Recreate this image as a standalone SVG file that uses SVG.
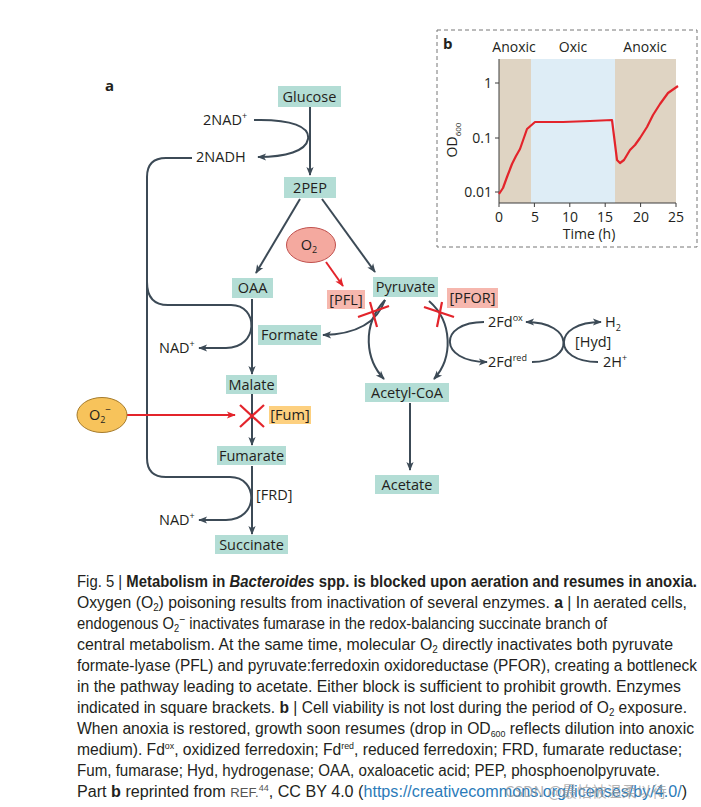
<svg xmlns="http://www.w3.org/2000/svg" width="701" height="807" viewBox="0 0 701 807">
<style>
.bg{fill:#ffffff}
.node rect{fill:#b3ddd5}
.lbl{font-family:"Open Sans","Noto Sans",sans-serif;font-size:14.5px;fill:#231f20;text-anchor:middle}
.txt{font-family:"Open Sans","Noto Sans",sans-serif;font-size:14.5px;fill:#231f20}
.conn path,.conn line{stroke:#3c4a56;stroke-width:2;fill:none}
.conn .red{stroke:#e3242b;stroke-width:2}
.cross line{stroke:#e3242b;stroke-width:2.2}
.cap{font-family:"Liberation Sans",Arial,sans-serif;font-size:16px;fill:#231f20}
.ax{font-family:"Open Sans","Noto Sans",sans-serif;font-size:14px;fill:#231f20}
</style>
<defs>
<marker id="ah" viewBox="0 0 10 10" refX="9" refY="5" markerWidth="10" markerHeight="9" markerUnits="userSpaceOnUse" orient="auto"><path d="M0,1 L10,5 L0,9 L2.5,5z" fill="#3c4a56"/></marker>
<marker id="ahr" viewBox="0 0 10 10" refX="9" refY="5" markerWidth="10" markerHeight="9" markerUnits="userSpaceOnUse" orient="auto"><path d="M0,1 L10,5 L0,9 L2.5,5z" fill="#e3242b"/></marker>
</defs>
<rect class="bg" x="0" y="0" width="701" height="807"/>

<!-- Panel a label -->
<text x="105" y="91" font-family="'Open Sans','Noto Sans',sans-serif" font-size="15" font-weight="bold" fill="#231f20">a</text>

<!-- Connectors -->
<g id="connectors" class="conn">
<line x1="310" y1="107" x2="310" y2="175" marker-end="url(#ah)"/>
<path d="M254,120 C292,119 310,127 308,139 C306,151 286,157 258,157" marker-end="url(#ah)"/>
<path d="M192,158 L166,158 Q147,158 147,177 L147,458 Q147,477 166,477 L230,477 C259,477 259,520 226,520 L199,520" marker-end="url(#ah)"/>
<path d="M147,282 Q147,305 168,305 L231,305 C259,305 259,348 226,348 L199,348" marker-end="url(#ah)"/>
<line x1="300" y1="199" x2="256" y2="273" marker-end="url(#ah)"/>
<line x1="322" y1="199" x2="375" y2="272" marker-end="url(#ah)"/>
<path class="red" d="M326,262 L343,286" marker-end="url(#ahr)"/>
<path d="M385,300 Q373,334 323,335" marker-end="url(#ah)"/>
<path d="M385,300 C361,326 366,360 384,379" marker-end="url(#ah)"/>
<path d="M429,301 C453,322 453,358 434,379" marker-end="url(#ah)"/>
<line x1="410" y1="403" x2="410" y2="470" marker-end="url(#ah)"/>
<path d="M484,322 C438,322 438,362 487,362" marker-end="url(#ah)"/>
<path d="M532,362 C575,362 575,322 526,322" marker-end="url(#ah)"/>
<path d="M598,362 C552,362 552,322 601,322" marker-end="url(#ah)"/>
<line x1="252" y1="299" x2="252" y2="374" marker-end="url(#ah)"/>
<line x1="252" y1="394" x2="252" y2="445" marker-end="url(#ah)"/>
<path class="red" d="M127,415 L235,415" marker-end="url(#ahr)"/>
<line x1="252" y1="466" x2="252" y2="534" marker-end="url(#ah)"/>
</g>

<!-- Inhibition crosses -->
<g id="cross-pfl" class="cross"><line x1="358" y1="317" x2="389" y2="306"/><line x1="370" y1="302" x2="377" y2="327"/></g>
<g id="cross-pfor" class="cross"><line x1="424" y1="307" x2="454" y2="317"/><line x1="442" y1="302" x2="437" y2="327"/></g>
<g id="cross-fum" class="cross"><line x1="240" y1="405" x2="264" y2="427"/><line x1="264" y1="405" x2="240" y2="427"/></g>

<!-- Nodes -->
<g id="glucose" class="node"><rect x="278" y="86" width="63" height="21"/><text class="lbl" x="309.5" y="102">Glucose</text></g>
<g id="pep" class="node"><rect x="284" y="177" width="52" height="21"/><text class="lbl" x="310" y="193">2PEP</text></g>
<g id="oaa" class="node"><rect x="232" y="278" width="41" height="20"/><text class="lbl" x="252.5" y="293">OAA</text></g>
<g id="pyruvate" class="node"><rect x="373" y="277" width="65" height="20"/><text class="lbl" x="405.5" y="292">Pyruvate</text></g>
<g id="formate" class="node"><rect x="258" y="325" width="63" height="20"/><text class="lbl" x="289.5" y="340">Formate</text></g>
<g id="acetylcoa" class="node"><rect x="365" y="383" width="84" height="19"/><text class="lbl" x="407" y="397.5">Acetyl-CoA</text></g>
<g id="acetate" class="node"><rect x="375" y="475" width="64" height="19"/><text class="lbl" x="407" y="489.5">Acetate</text></g>
<g id="malate" class="node"><rect x="226" y="375" width="51" height="19"/><text class="lbl" x="251.5" y="389.5">Malate</text></g>
<g id="fumarate" class="node"><rect x="217" y="446" width="69" height="19"/><text class="lbl" x="251.5" y="460.5">Fumarate</text></g>
<g id="succinate" class="node"><rect x="215" y="535" width="73" height="19"/><text class="lbl" x="251.5" y="549.5">Succinate</text></g>

<g id="pfl"><rect x="327" y="290" width="38" height="19" fill="#f6b7ae"/><text class="lbl" x="346" y="304.5">[PFL]</text></g>
<g id="pfor"><rect x="447" y="288" width="51" height="20" fill="#f6b7ae"/><text class="lbl" x="472.5" y="303">[PFOR]</text></g>
<g id="fum"><rect x="269" y="406" width="42" height="18" fill="#fdd07f"/><text class="lbl" x="290" y="420">[Fum]</text></g>

<g id="o2"><ellipse cx="311" cy="245" rx="24.5" ry="17.5" fill="#f4a99f" stroke="#c0504d" stroke-width="1"/><text class="lbl" x="309" y="250">O<tspan font-size="9" dy="3">2</tspan></text></g>
<g id="superoxide"><ellipse cx="102" cy="415" rx="25" ry="17.5" fill="#f7c35b" stroke="#a57b2c" stroke-width="1"/><text class="lbl" x="100" y="420">O<tspan font-size="9" dy="3">2</tspan><tspan font-size="10" dy="-10">−</tspan></text></g>

<g id="nad-plus-top"><text class="txt" x="203" y="125">2NAD<tspan font-size="9" dy="-6">+</tspan></text></g>
<g id="nadh"><text class="txt" x="196" y="162">2NADH</text></g>
<g id="nad-plus-1"><text class="txt" x="159" y="353">NAD<tspan font-size="9" dy="-6">+</tspan></text></g>
<g id="nad-plus-2"><text class="txt" x="159" y="525">NAD<tspan font-size="9" dy="-6">+</tspan></text></g>
<g id="frd"><text class="txt" x="256" y="500">[FRD]</text></g>
<g id="fdox"><text class="txt" x="488" y="327">2Fd<tspan font-size="9" dy="-6">ox</tspan></text></g>
<g id="fdred"><text class="txt" x="488" y="367">2Fd<tspan font-size="9" dy="-6">red</tspan></text></g>
<g id="h2"><text class="txt" x="605" y="327">H<tspan font-size="9" dy="4">2</tspan></text></g>
<g id="h-plus"><text class="txt" x="603" y="367">2H<tspan font-size="9" dy="-6">+</tspan></text></g>
<g id="hyd"><text class="txt" x="575" y="347">[Hyd]</text></g>

<!-- Panel b -->
<g id="panel-b">
<rect x="437" y="30" width="260" height="217" fill="none" stroke="#777" stroke-width="1" stroke-dasharray="4,3"/>
<text x="443" y="49" font-family="'Open Sans','Noto Sans',sans-serif" font-size="15" font-weight="bold" fill="#231f20">b</text>
<text class="ax" x="514" y="52" text-anchor="middle" font-size="15">Anoxic</text>
<text class="ax" x="573" y="52" text-anchor="middle" font-size="15">Oxic</text>
<text class="ax" x="645" y="52" text-anchor="middle" font-size="15">Anoxic</text>
<rect x="499" y="59" width="32" height="144" fill="#dfd4c3"/>
<rect x="531" y="59" width="84" height="144" fill="#deedf6"/>
<rect x="615" y="59" width="61" height="144" fill="#dfd4c3"/>
<g stroke="#3c3c3c" stroke-width="1" fill="none">
<line x1="499" y1="59" x2="499" y2="203"/>
<line x1="499" y1="203" x2="676" y2="203"/>
<line x1="499" y1="203" x2="499" y2="207"/><line x1="534.4" y1="203" x2="534.4" y2="207"/><line x1="569.8" y1="203" x2="569.8" y2="207"/><line x1="605.2" y1="203" x2="605.2" y2="207"/><line x1="640.6" y1="203" x2="640.6" y2="207"/><line x1="676" y1="203" x2="676" y2="207"/>
<line x1="495" y1="83" x2="499" y2="83"/><line x1="495" y1="138" x2="499" y2="138"/><line x1="495" y1="192" x2="499" y2="192"/>
</g>
<g class="ax" text-anchor="middle">
<text x="499" y="222">0</text><text x="535" y="222">5</text><text x="570" y="222">10</text><text x="605" y="222">15</text><text x="641" y="222">20</text><text x="676" y="222">25</text>
</g>
<g class="ax" text-anchor="end">
<text x="492" y="88">1</text><text x="492" y="143">0.1</text><text x="492" y="197">0.01</text>
</g>
<text class="ax" x="589" y="239" text-anchor="middle" font-size="15">Time (h)</text>
<text class="ax" font-size="15" text-anchor="middle" transform="translate(457,140) rotate(-90)">OD<tspan font-size="8" dy="4">600</tspan></text>
<path d="M499,194 L503,188 L507,177 L512,164 L516,156 L520,149 L527,129 L535,122 L563,122 L590,121 L612,120 L617,160 L620,163 L624,160 L627,155 L630,150 L635,145 L640,138 L647,127 L653,115 L660,104 L668,93 L678,86" fill="none" stroke="#e3242b" stroke-width="2.2" stroke-linejoin="round"/>
</g>

<!-- Caption -->
<g id="caption" class="cap">
<text x="77" y="587" textLength="620" lengthAdjust="spacingAndGlyphs">Fig. 5 | <tspan font-weight="bold">Metabolism in </tspan><tspan font-weight="bold" font-style="italic">Bacteroides</tspan><tspan font-weight="bold"> spp. is blocked upon aeration and resumes in anoxia.</tspan></text>
<text x="77" y="608" textLength="610" lengthAdjust="spacingAndGlyphs">Oxygen (O<tspan font-size="10" dy="3">2</tspan><tspan dy="-3">) poisoning results from inactivation of several enzymes. </tspan><tspan font-weight="bold">a</tspan> | In aerated cells,</text>
<text x="77" y="629" textLength="530" lengthAdjust="spacingAndGlyphs">endogenous O<tspan font-size="10" dy="3">2</tspan><tspan font-size="11" dy="-9">−</tspan><tspan dy="6"> inactivates fumarase in the redox-balancing succinate branch of</tspan></text>
<text x="77" y="650" textLength="596" lengthAdjust="spacingAndGlyphs">central metabolism. At the same time, molecular O<tspan font-size="10" dy="3">2</tspan><tspan dy="-3"> directly inactivates both pyruvate</tspan></text>
<text x="77" y="671" textLength="620" lengthAdjust="spacingAndGlyphs">formate-lyase (PFL) and pyruvate:ferredoxin oxidoreductase (PFOR), creating a bottleneck</text>
<text x="77" y="692" textLength="604" lengthAdjust="spacingAndGlyphs">in the pathway leading to acetate. Either block is sufficient to prohibit growth. Enzymes</text>
<text x="77" y="713" textLength="610" lengthAdjust="spacingAndGlyphs">indicated in square brackets. <tspan font-weight="bold">b</tspan> | Cell viability is not lost during the period of O<tspan font-size="10" dy="3">2</tspan><tspan dy="-3"> exposure.</tspan></text>
<text x="77" y="734" textLength="617" lengthAdjust="spacingAndGlyphs">When anoxia is restored, growth soon resumes (drop in OD<tspan font-size="9" dy="3">600</tspan><tspan dy="-3"> reflects dilution into anoxic</tspan></text>
<text x="77" y="755" textLength="605" lengthAdjust="spacingAndGlyphs">medium). Fd<tspan font-size="9" dy="-6">ox</tspan><tspan dy="6">, oxidized ferredoxin; Fd</tspan><tspan font-size="9" dy="-6">red</tspan><tspan dy="6">, reduced ferredoxin; FRD, fumarate reductase;</tspan></text>
<text x="77" y="776" textLength="583" lengthAdjust="spacingAndGlyphs">Fum, fumarase; Hyd, hydrogenase; OAA, oxaloacetic acid; PEP, phosphoenolpyruvate.</text>
<text x="77" y="797" textLength="610" lengthAdjust="spacingAndGlyphs">Part <tspan font-weight="bold">b</tspan> reprinted from <tspan font-size="13" fill="#555">REF.</tspan><tspan font-size="9" dy="-6" fill="#555">44</tspan><tspan dy="6">, CC BY 4.0 (</tspan><tspan fill="#2b7bb9">https://creativecommons.org/licenses/by/4.0/</tspan>)</text>
<text x="505" y="797" font-family="'Noto Sans CJK SC',sans-serif" font-size="15" fill="#9a9a9a" fill-opacity="0.75">CSDN @最怕被温柔以待</text>
</g>
</svg>
